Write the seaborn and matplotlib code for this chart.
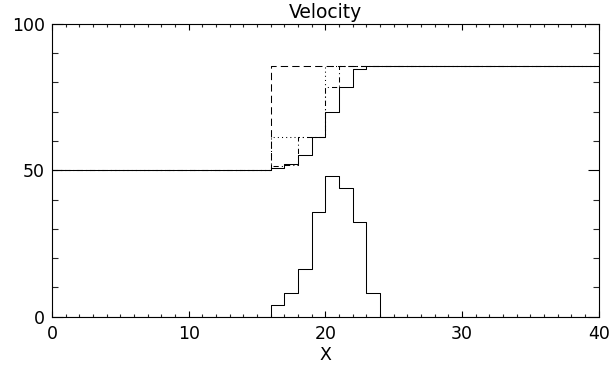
import numpy as np
import pandas as pd
import matplotlib
matplotlib.use("Agg")
import matplotlib.pyplot as plt
import seaborn as sns
from matplotlib.ticker import MultipleLocator, FixedLocator

sns.set_theme(style="ticks")
plt.rcParams['font.family'] = ['DejaVu Sans']
plt.rcParams['text.color'] = 'black'
plt.rcParams['axes.labelcolor'] = 'black'

# cell left edges 0..40 (value holds on [x, x+1))
x_edges = list(range(0, 41))
exact = [50.0] * 16 + [85.6] * 25
dotted = [50.0] * 16 + [61.4] * 4 + [85.6] * 21
dashdot = [50.0] * 16 + [51.6, 51.8, 61.4, 61.4, 78.5] + [85.6] * 20
solid = [50.0] * 16 + [50.9, 52.1, 55.1, 61.4, 70.0, 78.3, 84.5] + [85.6] * 18
lower = [0.0] * 16 + [4.0, 8.0, 16.2, 35.8, 48.1, 44.0, 32.2, 8.0] + [0.0] * 17

fig = plt.figure(figsize=(6.12, 3.66), dpi=100)
ax = fig.add_axes([52 / 612, 1 - 316.7 / 366, (598.7 - 52) / 612, (316.7 - 23.7) / 366])

df = pd.DataFrame({"x": x_edges, "exact": exact, "dotted": dotted,
                   "dashdot": dashdot, "solid": solid, "lower": lower})

common = dict(color="black", lw=0.75, drawstyle="steps-post", estimator=None, ax=ax)
sns.lineplot(data=df, x="x", y="exact", linestyle=(0, (7, 4)), **common)
sns.lineplot(data=df, x="x", y="dotted", linestyle=(0, (1, 3)), **common)
sns.lineplot(data=df, x="x", y="dashdot", linestyle=(0, (5, 3, 1, 3)), **common)
sns.lineplot(data=df, x="x", y="solid", linestyle="-", **common)
sns.lineplot(data=df, x="x", y="lower", linestyle="-", **common)

ax.set_xlim(0, 40)
ax.set_ylim(0, 100)
ax.xaxis.set_major_locator(MultipleLocator(10))
ax.xaxis.set_minor_locator(MultipleLocator(1))
ax.yaxis.set_major_locator(FixedLocator([0, 50, 100]))
ax.yaxis.set_minor_locator(MultipleLocator(10))
ax.tick_params(axis="x", which="major", direction="in", length=4.3, width=0.8,
               top=True, bottom=True, labelsize=12.5, pad=6, colors="black")
ax.tick_params(axis="x", which="minor", direction="in", length=2.2, width=0.8,
               top=True, bottom=True)
ax.tick_params(axis="y", which="major", direction="in", length=7.9, width=0.8,
               left=True, right=True, labelsize=12.5, pad=5, colors="black")
ax.tick_params(axis="y", which="minor", direction="in", length=4.0, width=0.8,
               left=True, right=True)
for s in ax.spines.values():
    s.set_linewidth(0.8)
    s.set_color("black")
    s.set_visible(True)

ax.set_title("Velocity", fontsize=13.5, pad=4, color="black")
ax.set_xlabel("X", fontsize=12.5, labelpad=2, color="black")
ax.set_ylabel("")

fig.savefig("out.png", dpi=100)
